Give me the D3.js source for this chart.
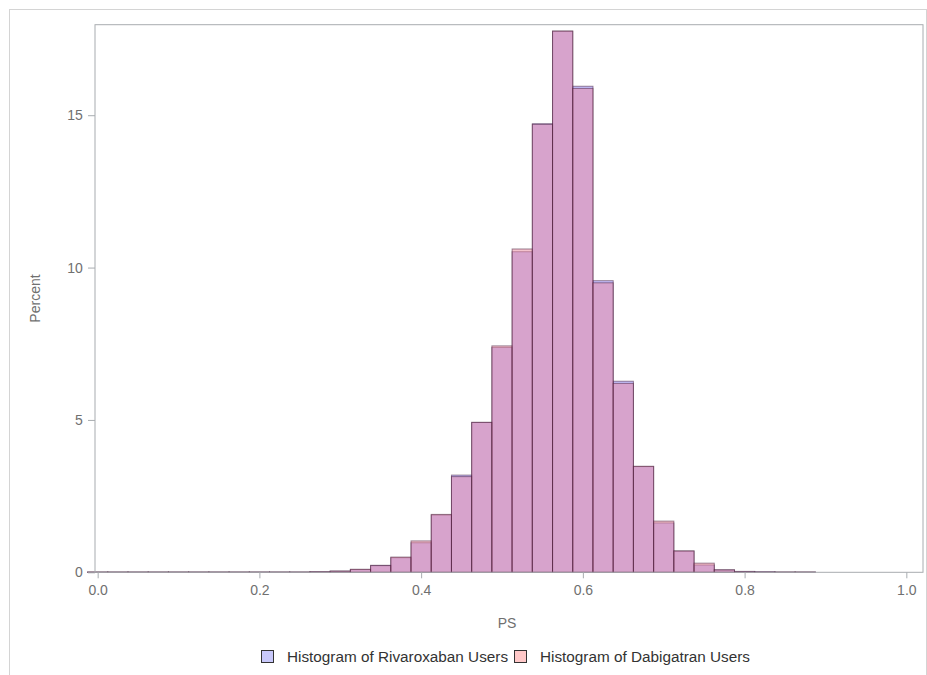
<!DOCTYPE html>
<html>
<head>
<meta charset="utf-8">
<script src="https://cdn.jsdelivr.net/npm/d3@7"></script>
<style>
  body { margin: 0; background: #fff; }
  text { font-family: "Liberation Sans", Arial, sans-serif; }
</style>
</head>
<body>
<svg width="927" height="675"></svg>
<script>
// bin centers (width 0.025)
const binWidth = 0.025
const binCenters = [0.000, 0.025, 0.050, 0.075, 0.100, 0.125, 0.150, 0.175, 0.200, 0.225,
  0.250, 0.275, 0.300, 0.325, 0.350, 0.375, 0.400, 0.425, 0.450, 0.475,
  0.500, 0.525, 0.550, 0.575, 0.600, 0.625, 0.650, 0.675, 0.700, 0.725,
  0.750, 0.775, 0.800, 0.825, 0.850, 0.875]
const rivaroxaban = [0.01, 0.01, 0.01, 0.01, 0.01, 0.01, 0.01, 0.01, 0.01, 0.01,
  0.01, 0.02, 0.04, 0.09, 0.23, 0.48, 0.97, 1.88, 3.19, 4.92,
  7.38, 10.52, 14.72, 17.76, 15.95, 9.57, 6.27, 3.47, 1.62, 0.70,
  0.24, 0.08, 0.03, 0.02, 0.01, 0.01]
const dabigatran = [0.01, 0.01, 0.01, 0.01, 0.01, 0.01, 0.01, 0.01, 0.01, 0.01,
  0.01, 0.02, 0.04, 0.10, 0.22, 0.50, 1.03, 1.90, 3.14, 4.92,
  7.43, 10.61, 14.70, 17.76, 15.88, 9.50, 6.20, 3.48, 1.68, 0.70,
  0.30, 0.08, 0.02, 0.01, 0.01, 0.01]
const xTicks = [0, 0.2, 0.4, 0.6, 0.8, 1.0]
const yTicks = [0, 5, 10, 15]
const seriesNames = ["Histogram of Rivaroxaban Users", "Histogram of Dabigatran Users"]

const svg = d3.select("svg")
const frame = { left: 95, right: 923, top: 24.7, bottom: 572.3 }

// outer border
svg.append("rect")
  .attr("x", 9.5).attr("y", 9.5)
  .attr("width", 917).attr("height", 700)
  .attr("fill", "none").attr("stroke", "#d4d4d4")

const x = d3.scaleLinear()
  .domain([-0.0033, 1.0206])
  .range([frame.left, frame.right])
const y = d3.scaleLinear()
  .domain([0, 17.97])
  .range([frame.bottom, frame.top])

// bars
const series = [
  { name: seriesNames[0], values: rivaroxaban, fill: "#8c80f5" },
  { name: seriesNames[1], values: dabigatran, fill: "#ea889e" }
]
for (let s of series) {
  svg.append("g").selectAll("rect").data(s.values).enter().append("rect")
    .attr("x", (d, i) => x(binCenters[i] - binWidth / 2))
    .attr("width", x(binWidth) - x(0))
    .attr("y", d => y(d))
    .attr("height", d => y(0) - y(d))
    .attr("fill", s.fill)
    .attr("fill-opacity", 0.5)
    .attr("stroke", "#3e1434")
    .attr("stroke-opacity", 0.5)
    .attr("stroke-width", 1)
}

// plot frame
svg.append("rect")
  .attr("x", frame.left).attr("y", frame.top)
  .attr("width", frame.right - frame.left)
  .attr("height", frame.bottom - frame.top)
  .attr("fill", "none").attr("stroke", "#a8acb0")

// axes
const xAxis = svg.append("g")
  .attr("transform", `translate(0,${frame.bottom})`)
  .call(d3.axisBottom(x).tickValues(xTicks).tickFormat(d3.format(".1f")).tickSize(6).tickSizeOuter(0))
const yAxis = svg.append("g")
  .attr("transform", `translate(${frame.left},0)`)
  .call(d3.axisLeft(y).tickValues(yTicks).tickSize(7).tickSizeOuter(0))
for (let ax of [xAxis, yAxis]) {
  ax.select(".domain").remove()
  ax.selectAll("line").attr("stroke", "#a8acb0")
  ax.selectAll("text").attr("fill", "#707070").attr("font-size", 14)
}
xAxis.selectAll("text").attr("dy", "0.95em")
yAxis.selectAll("text").attr("dx", "-0.15em")

// axis titles
svg.append("text")
  .attr("x", (frame.left + frame.right) / 2 - 2)
  .attr("y", 628)
  .attr("text-anchor", "middle")
  .attr("font-size", 14)
  .attr("fill", "#707070")
  .text("PS")
svg.append("text")
  .attr("transform", `translate(40,${(frame.top + frame.bottom) / 2}) rotate(-90)`)
  .attr("text-anchor", "middle")
  .attr("font-size", 14)
  .attr("fill", "#707070")
  .text("Percent")

// legend
const legendSwatch = ["#c8c8fa", "#ffc8c8"]
const legendX = [261, 514]
seriesNames.forEach((name, i) => {
  let g = svg.append("g").attr("transform", `translate(${legendX[i]},650)`)
  g.append("rect")
    .attr("x", 0.5).attr("y", 0.5)
    .attr("width", 12).attr("height", 12)
    .attr("fill", legendSwatch[i])
    .attr("stroke", "#333")
  g.append("text")
    .attr("x", 26).attr("y", 12)
    .attr("font-size", 15.3)
    .attr("fill", "#333")
    .text(name)
})
</script>
</body>
</html>
